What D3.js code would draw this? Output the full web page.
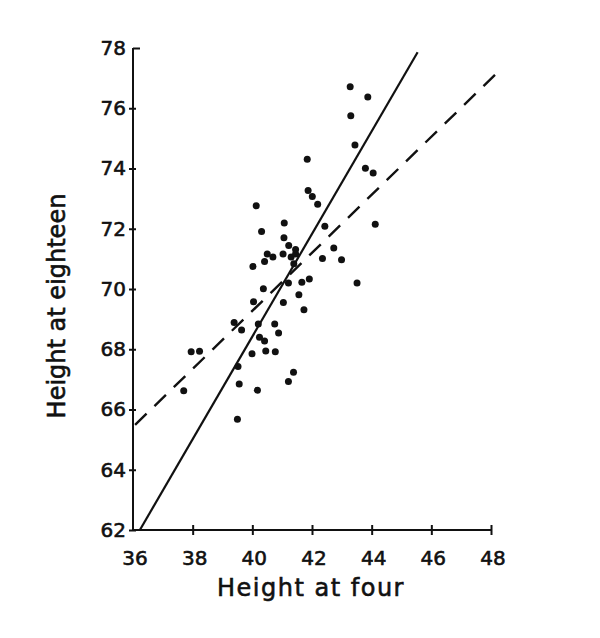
<!DOCTYPE html>
<html>
<head>
<meta charset="utf-8">
<script src="https://cdn.jsdelivr.net/npm/d3@7.9.0/dist/d3.min.js"></script>
<style>
  body { margin: 0; background: #fff; }
  svg { display: block; }
  text { font-family: "DejaVu Sans", sans-serif; fill: #111; stroke: #111; stroke-width: 0.6px; }
</style>
</head>
<body>
<div id="chart"></div>
<script>
// height at four (x) vs height at eighteen (y)
const heightAtFour = [43.28, 43.87, 43.30, 43.44, 41.84, 43.79, 44.05, 41.87, 42.01, 42.19,
  40.13, 44.12, 41.07, 42.43, 40.31, 41.06, 41.22, 42.73, 41.45, 40.50,
  40.69, 41.03, 41.30, 41.45, 42.35, 42.99, 40.02, 40.41, 41.39, 43.51,
  41.91, 41.66, 41.21, 40.37, 41.56, 40.04, 41.04, 41.73, 39.39, 39.64,
  40.20, 40.75, 40.88, 40.24, 40.41, 37.95, 38.23, 39.99, 40.45, 40.77,
  39.52, 41.38, 41.21, 39.56, 37.70, 40.17, 39.50];
const heightAtEighteen = [76.71, 76.37, 75.75, 74.78, 74.31, 74.01, 73.85, 73.27, 73.07, 72.81,
  72.76, 72.15, 72.19, 72.08, 71.91, 71.70, 71.44, 71.36, 71.31, 71.16,
  71.06, 71.16, 71.06, 71.16, 71.01, 70.97, 70.75, 70.91, 70.84, 70.20,
  70.33, 70.22, 70.20, 70.01, 69.81, 69.58, 69.55, 69.31, 68.89, 68.64,
  68.84, 68.84, 68.54, 68.40, 68.27, 67.92, 67.93, 67.85, 67.94, 67.92,
  67.43, 67.24, 66.93, 66.85, 66.62, 66.64, 65.68];

// the two fitted lines, as drawn
const solidLine = [[36.23, 62], [45.54, 77.86]];
const dashedLine = [[36.07, 65.49], [48.26, 77.23]];

const xTicks = [38, 40, 42, 44, 46, 48];
const xTickLabels = [36, 38, 40, 42, 44, 46, 48];
const yTicks = [62, 64, 66, 68, 70, 72, 74, 76, 78];

const width = 600, height = 638;
const margin = { top: 48, right: 109, bottom: 108, left: 133 };

const svg = d3.select('#chart').append('svg')
  .attr('width', width)
  .attr('height', height);

const x = d3.scaleLinear().domain([36, 48]).range([margin.left, width - margin.right]);
const y = d3.scaleLinear().domain([62, 78]).range([height - margin.bottom, margin.top]);

// y axis
const yAxis = svg.append('g')
  .attr('transform', `translate(${margin.left},0)`)
  .call(d3.axisLeft(y).tickValues(yTicks).tickSize(5).tickPadding(8));
yAxis.select('.domain').remove();
yAxis.append('line')
  .attr('x1', 0).attr('x2', 0)
  .attr('y1', y(62)).attr('y2', y(78))
  .attr('stroke', '#111').attr('stroke-width', 2);
yAxis.selectAll('.tick line')
  .attr('x1', -4).attr('x2', 3)
  .attr('stroke', '#111').attr('stroke-width', 2);
yAxis.selectAll('.tick')
  .filter(d => d === 78)
  .select('line').attr('x1', 0).attr('x2', 7);
yAxis.selectAll('.tick text')
  .attr('x', -7)
  .attr('fill', '#111')
  .style('font-size', '20px')
  .style('font-family', '"DejaVu Sans", sans-serif');

// x axis
const xAxis = svg.append('g')
  .attr('transform', `translate(0,${y(62)})`)
  .call(d3.axisBottom(x).tickValues(xTicks).tickSize(5).tickFormat(''));
xAxis.select('.domain').remove();
xAxis.append('line')
  .attr('x1', x(36)).attr('x2', x(48))
  .attr('y1', 0).attr('y2', 0)
  .attr('stroke', '#111').attr('stroke-width', 2);
xAxis.selectAll('.tick line')
  .attr('y1', -5).attr('y2', 5)
  .attr('stroke', '#111').attr('stroke-width', 2);
xAxis.selectAll('text.lbl')
  .data(xTickLabels)
  .join('text')
  .attr('class', 'lbl')
  .attr('x', d => x(d) + 2)
  .attr('y', 35)
  .attr('text-anchor', 'middle')
  .style('font-size', '20px')
  .text(d => d);

// axis titles
svg.append('text')
  .attr('x', 311)
  .attr('y', 596)
  .attr('text-anchor', 'middle')
  .style('font-size', '24px')
  .style('letter-spacing', '1.5px')
  .text('Height at four');

svg.append('text')
  .attr('transform', `translate(65,306) rotate(-90)`)
  .attr('text-anchor', 'middle')
  .style('font-size', '24px')
  .text('Height at eighteen');

// fitted lines
const line = d3.line().x(d => x(d[0])).y(d => y(d[1]));
svg.append('path')
  .attr('d', line(solidLine))
  .attr('fill', 'none')
  .attr('stroke', '#111')
  .attr('stroke-width', 2.2);
svg.append('path')
  .attr('d', line(dashedLine))
  .attr('fill', 'none')
  .attr('stroke', '#111')
  .attr('stroke-width', 2.4)
  .attr('stroke-dasharray', '16,11');

// points
svg.append('g')
  .selectAll('circle')
  .data(heightAtFour.map((v, i) => [v, heightAtEighteen[i]]))
  .join('circle')
  .attr('cx', d => x(d[0]))
  .attr('cy', d => y(d[1]))
  .attr('r', 3.5)
  .attr('fill', '#111');
</script>
</body>
</html>
